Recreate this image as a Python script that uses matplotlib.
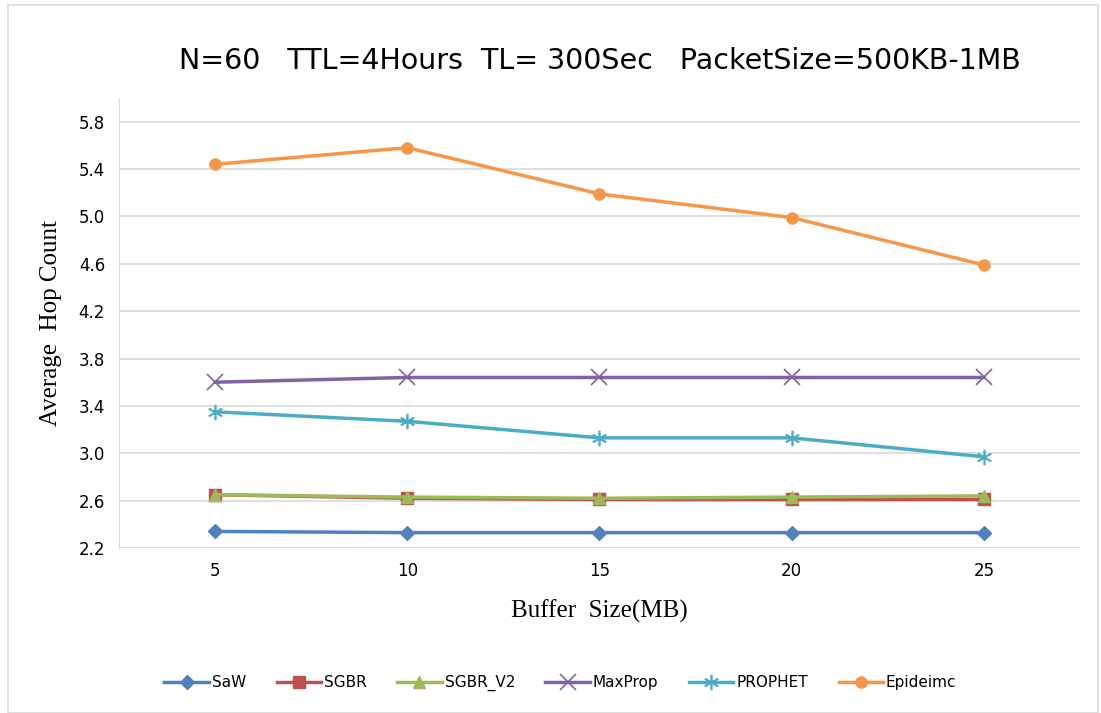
import numpy as np
import matplotlib
matplotlib.use("Agg")
import matplotlib.pyplot as plt

# data
buffer_mb = [5, 10, 15, 20, 25]
saw = [2.34, 2.33, 2.33, 2.33, 2.33]
sgbr = [2.65, 2.62, 2.61, 2.61, 2.61]
sgbr_v2 = [2.65, 2.63, 2.62, 2.63, 2.64]
maxprop = [3.60, 3.64, 3.64, 3.64, 3.64]
prophet = [3.35, 3.27, 3.13, 3.13, 2.97]
epidemic = [5.44, 5.58, 5.19, 4.99, 4.59]
names = ["SaW", "SGBR", "SGBR_V2", "MaxProp", "PROPHET", "Epideimc"]
yticks = [2.2, 2.6, 3.0, 3.4, 3.8, 4.2, 4.6, 5.0, 5.4, 5.8]

series = [saw, sgbr, sgbr_v2, maxprop, prophet, epidemic]
colors = ["#4F81BD", "#C0504D", "#9BBB59", "#8064A2", "#4BACC6", "#F79646"]
markers = ["D", "s", "^", "x", (6, 2, 0), "o"]
msizes = [7, 8, 8, 11, 11, 8]

fig = plt.figure(figsize=(11.01, 7.13), dpi=100)
ax = fig.add_axes([0.108, 0.2314, 0.873, 0.6312])

for y, c, m, ms, n in zip(series, colors, markers, msizes, names):
    mew = 1.2 if m in ("x", (6, 2, 0)) else 1
    ax.plot(buffer_mb, y, color=c, marker=m, markersize=ms, lw=2.5,
            markeredgewidth=mew, label=n)

ax.set_xlim(2.5, 27.5)
ax.set_ylim(2.2, 6.0)
ax.set_xticks(buffer_mb)
ax.set_xticklabels([str(v) for v in buffer_mb], fontsize=12, family="DejaVu Sans")
ax.set_yticks(yticks)
ax.set_yticklabels(["%.1f" % v for v in yticks], fontsize=12, family="DejaVu Sans")
ax.tick_params(length=0, pad=10)
ax.yaxis.grid(True, color="#d9d9d9", lw=1.2)
ax.set_axisbelow(True)
for s in ["top", "right", "bottom"]:
    ax.spines[s].set_visible(False)
ax.spines["left"].set_color("#d9d9d9")

ax.set_ylabel("Average  Hop Count", family="Liberation Serif", fontsize=18, labelpad=12)
ax.set_xlabel("Buffer  Size(MB)", family="Liberation Serif", fontsize=18, labelpad=14)
fig.text(0.545, 0.915, "N=60   TTL=4Hours  TL= 300Sec   PacketSize=500KB-1MB",
         ha="center", va="center", fontsize=20.5, family="DejaVu Sans")

fig.legend(loc="center", bbox_to_anchor=(0.509, 0.042), ncol=6, frameon=False,
           handlelength=2.9, columnspacing=2.0, handletextpad=0.2,
           prop={"family": "DejaVu Sans", "size": 11})

fig.patches.append(plt.Rectangle((0.007, 0.0), 0.99, 0.993, transform=fig.transFigure,
                                 fill=False, edgecolor="#d9d9d9", lw=1.2))

fig.savefig("out.png", dpi=100)
